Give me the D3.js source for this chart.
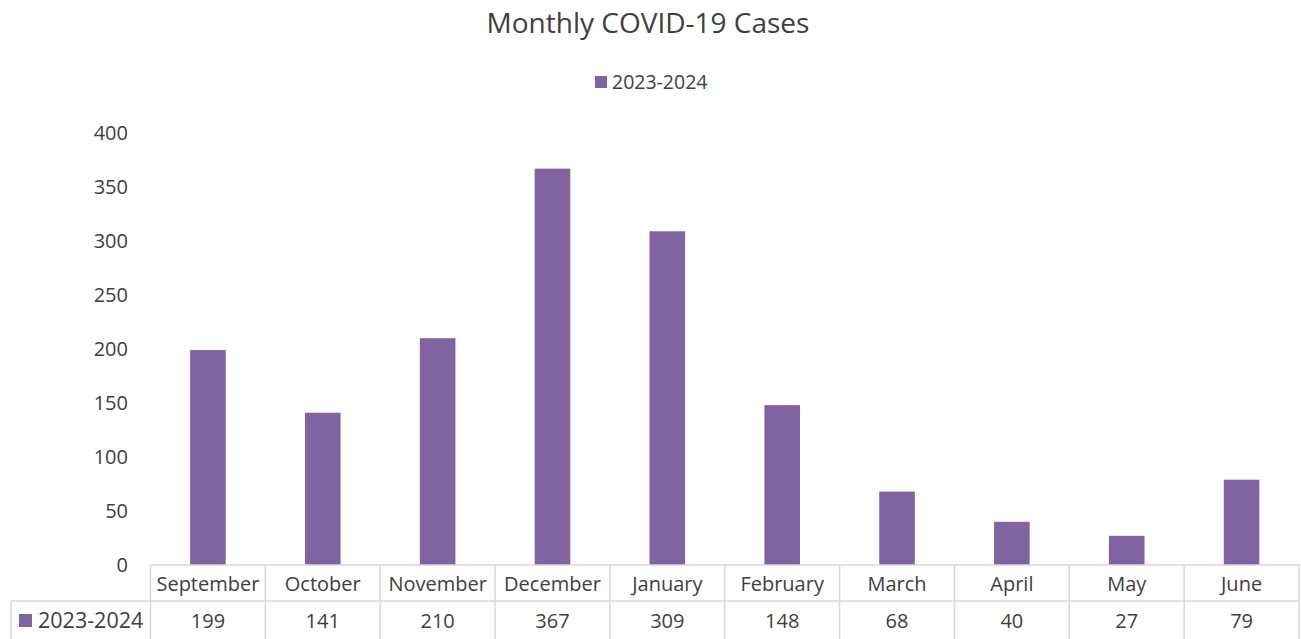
<!DOCTYPE html>
<html><head><meta charset="utf-8">
<script src="https://cdn.jsdelivr.net/npm/d3@7"></script>
<style>body{margin:0;background:#fff}svg{display:block}text{font-family:"Open Sans","Noto Sans",sans-serif;fill:#404040}</style>
</head><body><svg id="c" width="1301" height="639"></svg>
<script>
const categories = ["September","October","November","December","January","February","March","April","May","June"];
const seriesName = "2023-2024";
const values = [199,141,210,367,309,148,68,40,27,79];
const yTicks = [0,50,100,150,200,250,300,350,400];
const title = "Monthly COVID-19 Cases";

const svg = d3.select("#c");
const color = "#8064A2", grid = "#d9d9d9";
const x = d3.scaleBand().domain(categories).range([150.5, 1299]).paddingInner(0.69).paddingOuter(0.345);
const xb = d3.scaleBand().domain(categories).range([150.5, 1299]);
const y = d3.scaleLinear().domain([0,400]).range([565,133]);

svg.append("text").attr("x",648).attr("y",33).attr("text-anchor","middle").style("font-size","28px").text(title);
svg.append("rect").attr("x",595).attr("y",76).attr("width",12).attr("height",12).attr("fill",color);
svg.append("text").attr("x",612).attr("y",89).style("font-size","19.5px").text(seriesName);

const yAxis = d3.axisLeft(y).tickValues(yTicks).tickSize(0).tickPadding(0);
const ga = svg.append("g").attr("transform","translate(128,0)").call(yAxis);
ga.select(".domain").remove();
ga.selectAll("text").style("font-size","20px").style("font-family",'"Open Sans","Noto Sans",sans-serif').attr("fill","#404040");

svg.selectAll("rect.bar").data(values).join("rect").attr("class","bar")
  .attr("x",(d,i)=>x(categories[i])).attr("width",x.bandwidth())
  .attr("y",d=>y(d)).attr("height",d=>y(0)-y(d)).attr("fill",color);

// table
const lines = svg.append("g").attr("stroke",grid).attr("stroke-width",1.5);
lines.append("line").attr("x1",150.5).attr("x2",1299).attr("y1",565).attr("y2",565);
lines.append("line").attr("x1",11).attr("x2",1299).attr("y1",601).attr("y2",601);
lines.append("line").attr("x1",11).attr("x2",11).attr("y1",601).attr("y2",645);
categories.forEach(c=>{
  lines.append("line").attr("x1",xb(c)).attr("x2",xb(c)).attr("y1",565).attr("y2",645);
});
lines.append("line").attr("x1",1299).attr("x2",1299).attr("y1",565).attr("y2",645);

svg.selectAll("text.cat").data(categories).join("text").attr("class","cat")
  .attr("x",d=>xb(d)+xb.bandwidth()/2).attr("y",591).attr("text-anchor","middle").style("font-size","20px").text(d=>d);
svg.selectAll("text.val").data(values).join("text").attr("class","val")
  .attr("x",(d,i)=>xb(categories[i])+xb.bandwidth()/2).attr("y",628).attr("text-anchor","middle").style("font-size","20px").text(d=>d);
svg.append("rect").attr("x",19).attr("y",614).attr("width",13).attr("height",13).attr("fill",color);
svg.append("text").attr("x",38).attr("y",628).style("font-size","21.5px").text(seriesName);
</script></body></html>
